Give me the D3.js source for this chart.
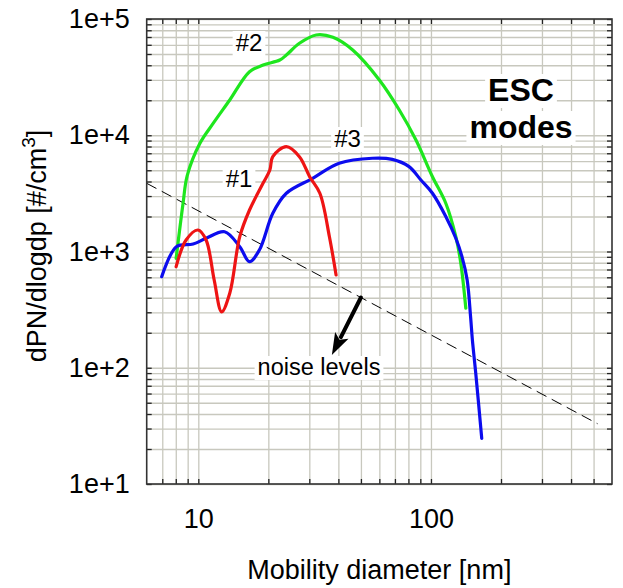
<!DOCTYPE html>
<html>
<head>
<meta charset="utf-8">
<script src="https://cdn.jsdelivr.net/npm/d3@7/dist/d3.min.js"></script>
<style>
  html, body { margin: 0; padding: 0; background: #fff; }
  svg { display: block; font-family: "Liberation Sans", Arial, sans-serif; }
</style>
</head>
<body>
<svg id="chart" width="623" height="588"></svg>
<script>
// ---- data ----
const xGridValues = [7, 8, 9, 10, 20, 30, 40, 50, 60, 70, 80, 90, 100, 200, 300, 400, 500];
const xTickLabels = [10, 100];
const yTickLabels = [10, 100, 1000, 10000, 100000];

// mode #1 (red): [diameter nm, dN/dlogdp]
const mode1 = [[8.03,740],[8.86,1256],[9.97,1530],[10.8,1256],[11.7,569],[12.6,303],[13.65,437],
  [15.07,1341],[16.6,2275],[18.97,3860],[20.3,5020],[20.9,6540],[23.9,7970],[27.2,6540],
  [30.1,4400],[33.3,3170],[36.6,1340],[39.1,628]];
// mode #2 (green)
const mode2 = [[8.03,874],[8.6,2600],[8.96,4500],[10.15,8500],[11.6,12700],[13.65,20100],
  [16.6,35200],[19.0,40200],[22.4,44400],[23.9,49000],[27.2,61800],[32.1,72900],[37.9,69600],
  [46.1,54100],[60,29900],[73.1,16500],[86.2,9100],[101.5,4400],[115.8,2600],[127.9,1340],
  [134.4,790],[141.2,325]];
// mode #3 (blue)
const mode3 = [[6.96,607],[8.05,1100],[9.5,1160],[10.8,1300],[12.97,1480],[15.07,1100],[16.6,817],
  [18.3,1030],[20.9,2130],[23.9,3170],[31.0,4260],[40.3,5740],[56.0,6340],[68.2,6200],
  [80.5,5370],[90.5,4120],[101.5,3170],[115.8,2000],[127.9,1300],[136,900],[143.1,569],
  [148,275],[150.7,173],[155.8,89.5],[165.3,24.7]];
// noise level line
const noise = [[6, 3860], [520, 33]];
// arrow (from noise line, pointing down)
const arrowFrom = [50, 402];
const arrowTo = [37.5, 129];

// ---- layout ----
const svg = d3.select("#chart");
const L = 146.7, R = 612, T = 19, B = 484;
const x = d3.scaleLog().domain([6, 600]).range([L, R]);
const y = d3.scaleLog().domain([10, 100000]).range([B, T]);

const yGridValues = [];
for (let e = 1; e <= 4; e++) for (let m = 1; m <= 9; m++) yGridValues.push(m * Math.pow(10, e));
yGridValues.push(100000);

const gridColor = "#c8c8be";

// grid lines
svg.append("g").attr("transform", `translate(0,${B})`)
  .call(d3.axisBottom(x).tickValues(xGridValues).tickSize(-(B - T)).tickFormat(""))
  .call(g => g.select(".domain").remove())
  .call(g => g.selectAll("line").attr("stroke", gridColor).attr("stroke-width", 1.3));
svg.append("g").attr("transform", `translate(${L},0)`)
  .call(d3.axisLeft(y).tickValues(yGridValues).tickSize(-(R - L)).tickFormat(""))
  .call(g => g.select(".domain").remove())
  .call(g => g.selectAll("line").attr("stroke", gridColor).attr("stroke-width", 1.3));

// white label boxes + labels
const labels = svg.append("g");
function label(txt, cx, base, size, weight) {
  const t = labels.append("text").attr("x", cx).attr("y", base)
    .attr("text-anchor", "middle").attr("font-size", size).attr("font-weight", weight || "normal")
    .attr("fill", "#000").text(txt);
  const bb = t.node().getBBox();
  labels.insert("rect", "text").attr("x", bb.x - 3).attr("y", bb.y + 2)
    .attr("width", bb.width + 6).attr("height", bb.height - 2).attr("fill", "#fff");
  return t;
}
label("#2", 249, 51, 24);
label("#3", 347.5, 147, 24);
label("#1", 239, 187, 24);
label("ESC", 521, 101, 32, "bold");
label("modes", 521, 138, 32, "bold");
label("noise levels", 319, 375, 23.5);

// noise line
const line = d3.line().x(d => x(d[0])).y(d => y(d[1]));
svg.append("path").datum(noise).attr("d", line)
  .attr("fill", "none").attr("stroke", "#000").attr("stroke-width", 1)
  .attr("stroke-dasharray", "11,6");

// curves
const curve = d3.line().x(d => x(d[0])).y(d => y(d[1])).curve(d3.curveCatmullRom.alpha(0.5));
[[mode2, "#1ee61e"], [mode3, "#0c0cee"], [mode1, "#ee1414"]].forEach(([data, c]) => {
  svg.append("path").datum(data).attr("d", curve)
    .attr("fill", "none").attr("stroke", c).attr("stroke-width", 3.2)
    .attr("stroke-linejoin", "round").attr("stroke-linecap", "round");
});

// arrow
{
  const x0 = x(arrowFrom[0]), y0 = y(arrowFrom[1]);
  const x1 = x(arrowTo[0]), y1 = y(arrowTo[1]);
  const dx = x1 - x0, dy = y1 - y0, len = Math.hypot(dx, dy);
  const ux = dx / len, uy = dy / len;
  const hl = 22, hw = 7.5;
  const bx = x1 - ux * hl, by = y1 - uy * hl;
  svg.append("line").attr("x1", x0).attr("y1", y0).attr("x2", bx + ux * 2).attr("y2", by + uy * 2)
    .attr("stroke", "#000").attr("stroke-width", 4).attr("stroke-linecap", "round");
  svg.append("path")
    .attr("d", `M${x1},${y1}L${bx - uy * hw},${by + ux * hw}L${bx + ux * 5},${by + uy * 5}L${bx + uy * hw},${by - ux * hw}Z`)
    .attr("fill", "#000");
}

// axes ticks (inward) on all four sides
const tickColor = "#222";
function styleTicks(g) {
  g.select(".domain").remove();
  g.selectAll("line").attr("stroke", tickColor).attr("stroke-width", 1.3);
}
svg.append("g").attr("transform", `translate(0,${B})`)
  .call(d3.axisBottom(x).tickValues(xGridValues).tickSize(-5).tickPadding(25)
    .tickFormat(d => xTickLabels.includes(d) ? d3.format("d")(d) : ""))
  .call(styleTicks)
  .call(g => g.selectAll("text").attr("font-size", 27).attr("fill", "#000")
    .attr("font-family", "Liberation Sans, Arial, sans-serif"));
svg.append("g").attr("transform", `translate(0,${T})`)
  .call(d3.axisTop(x).tickValues(xGridValues).tickSize(-5).tickFormat(""))
  .call(styleTicks);
svg.append("g").attr("transform", `translate(${L},0)`)
  .call(d3.axisLeft(y).tickValues(yGridValues).tickSize(-5).tickPadding(17)
    .tickFormat(d => yTickLabels.includes(d) ? d3.format(".0e")(d) : ""))
  .call(styleTicks)
  .call(g => g.selectAll("text").attr("font-size", 27).attr("fill", "#000")
    .attr("font-family", "Liberation Sans, Arial, sans-serif"));
svg.append("g").attr("transform", `translate(${R},0)`)
  .call(d3.axisRight(y).tickValues(yGridValues).tickSize(-5).tickFormat(""))
  .call(styleTicks);

// frame
svg.append("rect").attr("x", L).attr("y", T).attr("width", R - L).attr("height", B - T)
  .attr("fill", "none").attr("stroke", "#333").attr("stroke-width", 1.6);

// axis titles
svg.append("text").attr("x", (L + R) / 2).attr("y", 579).attr("text-anchor", "middle")
  .attr("font-size", 27).text("Mobility diameter [nm]");
const yt = svg.append("text").attr("transform", "translate(46,246) rotate(-90)")
  .attr("text-anchor", "middle").attr("font-size", 27);
yt.append("tspan").text("dPN/dlogdp [#/cm");
yt.append("tspan").attr("font-size", 19).attr("dy", -11).text("3");
yt.append("tspan").attr("dy", 11).text("]");
</script>
</body>
</html>
